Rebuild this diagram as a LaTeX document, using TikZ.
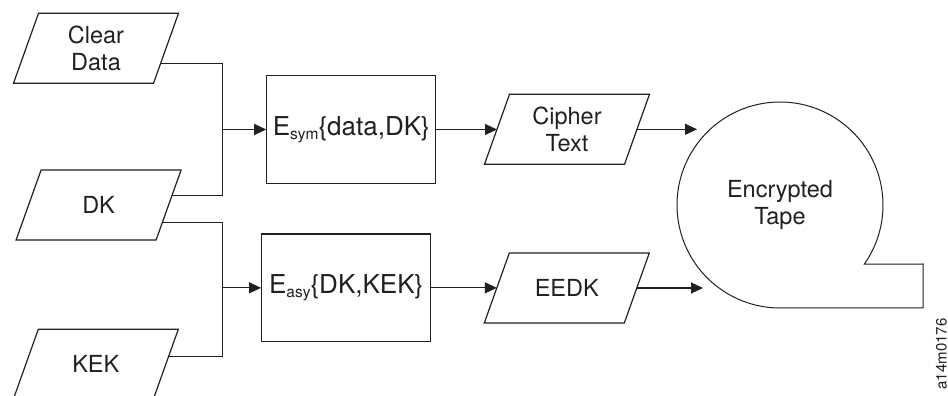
\documentclass[tikz,border=0pt]{standalone}
\usepackage{fontspec}
\setmainfont{TeX Gyre Heros}
\usetikzlibrary{arrows.meta,calc}
\definecolor{ink}{RGB}{35,31,32}
\newcommand\parashape[1]{%
  \draw[shp] ($(#1.center)+(-57.5,35)$) -- ($(#1.center)+(82.5,35)$)
    -- ($(#1.center)+(57.5,-35)$) -- ($(#1.center)+(-82.5,-35)$) -- cycle;}
\newcommand\subtxt[1]{\raisebox{-4.5pt}{\fontsize{15.5}{15.5}\selectfont #1}}
\begin{document}
\begin{tikzpicture}[x=1pt,y=1pt,
  shp/.style={draw=ink,line width=1.2pt,line join=miter},
  conn/.style={draw=ink,line width=1.1pt},
  arr/.style={conn,-{Triangle[length=12pt,width=11pt]}},
  lbl/.style={inner sep=0pt,align=center,text=ink,font=\fontsize{23.5}{27.7}\selectfont},
  proc/.style={shp,inner sep=0pt,minimum width=169pt,minimum height=107.6pt,text=ink,font=\fontsize{26}{30}\selectfont},
]
\useasboundingbox (0,0) rectangle (948,396);
% inputs
\node[lbl] (cd) at (96,347.7) {Clear\\Data};
\node[lbl] (dk) at (98.6,191) {DK};
\node[lbl] (kek) at (95.8,31.7) {KEK};
\parashape{cd}
\parashape{dk}
\parashape{kek}
% processes
\node[proc] (esym) at (351.3,266.5) {E\subtxt{sym}\{data,DK\}};
\node[proc] (easy) at (346.2,108.15) {E\subtxt{asy}\{DK,KEK\}};
% outputs
\node[lbl] (ct) at (567,266.7) {Cipher\\Text};
\node[lbl] (eedk) at (566.8,108) {EEDK};
\parashape{ct}
\parashape{eedk}
% tape
\node[lbl] (tape) at (780,191) {Encrypted\\Tape};
\draw[shp,line width=1pt] ($(tape.center)+(-35.1:103)$) arc[start angle=-35.1,end angle=270,radius=103]
  -- (923,88) -- (923,132) -- cycle;
% connector points
\coordinate (cdout) at ($(cd.center)+(64.6,-15)$);
\coordinate (dkoutA) at ($(dk.center)+(73.3,9.3)$);
\coordinate (dkoutB) at ($(dk.center)+(63.7,-17.7)$);
\coordinate (kekout) at ($(kek.center)+(72.7,7.6)$);
\coordinate (jA) at (222.3,200.3);
\coordinate (jB) at (222.3,39.3);
\coordinate (ctL) at ($(ct.center)+(-70,0)$);
\coordinate (ctR) at ($(ct.center)+(70,0)$);
\coordinate (eedkL) at ($(eedk.center)+(-70,0)$);
\coordinate (eedkR) at ($(eedk.center)+(70,0)$);
\coordinate (tin1) at (697,266.7);
\coordinate (tin2) at (703,108);
% connectors
\draw[conn] (cdout) -| (jA);
\draw[conn] (dkoutA) -- (jA);
\draw[arr] (jA |- esym.west) -- (esym.west);
\draw[conn] (dkoutB) -| (jB);
\draw[conn] (kekout) -- (jB);
\draw[arr] (jB |- easy.west) -- (easy.west);
\draw[arr] (esym.east) -- (esym.east -| ctL);
\draw[arr] (easy.east) -- (easy.east -| eedkL);
\draw[arr] (ctR) -- (tin1);
\draw[arr] (eedkR) -- (tin2);
% figure id
\node[rotate=90,inner sep=0pt,text=ink,font=\fontsize{15}{15}\selectfont] (figid) at (941.3,42) {a14m0176};
\end{tikzpicture}
\end{document}
